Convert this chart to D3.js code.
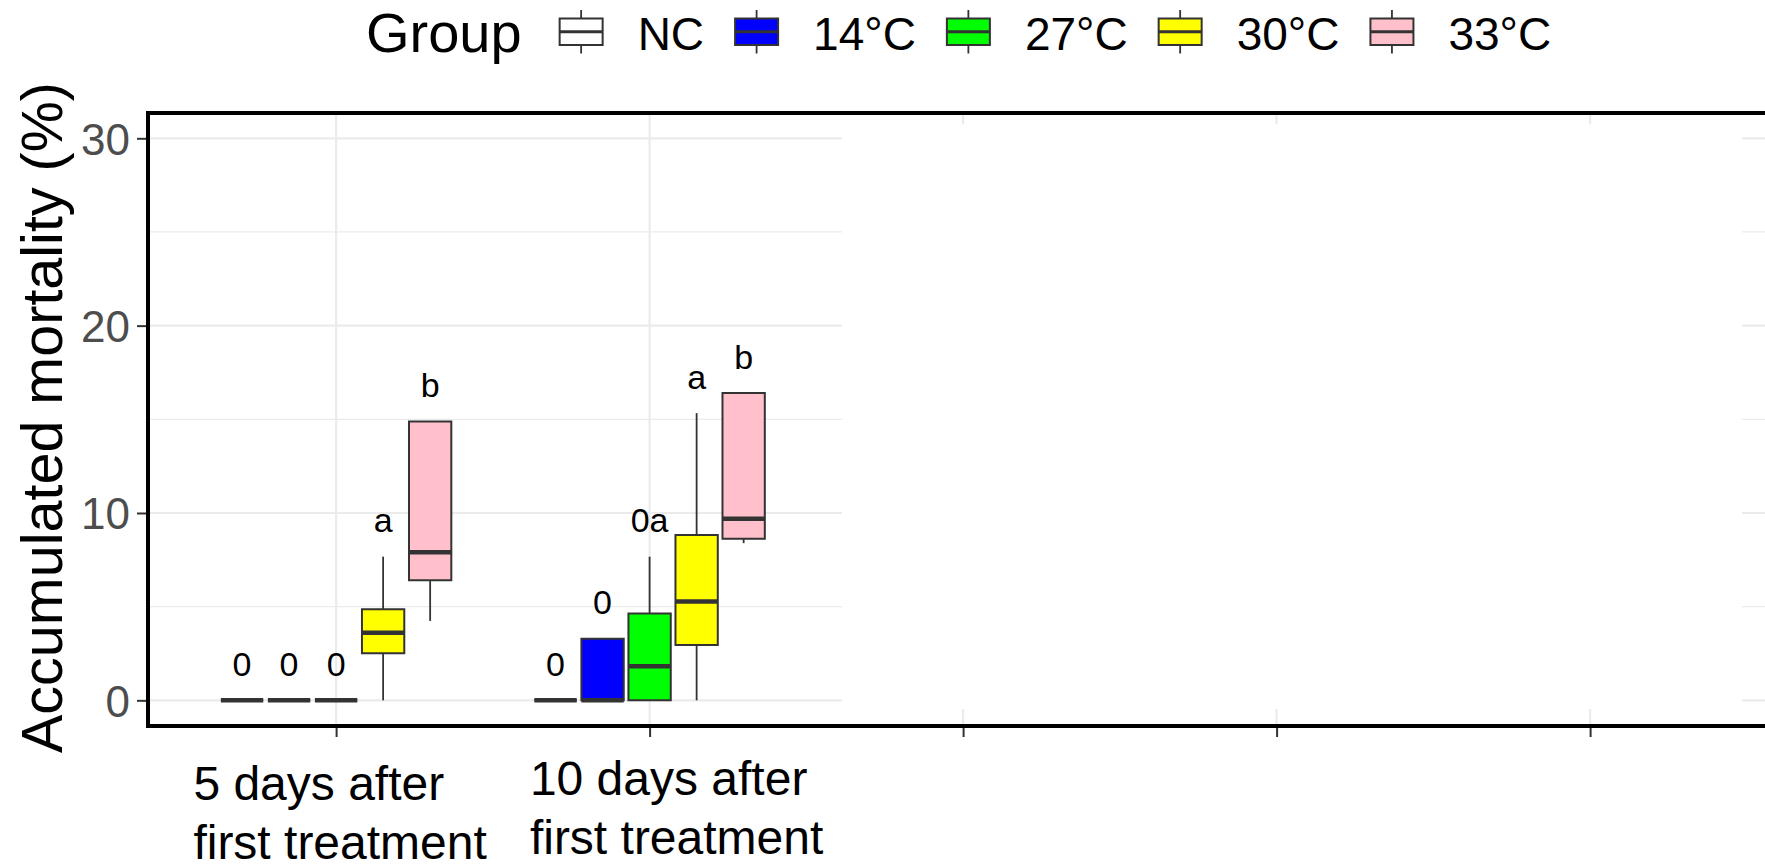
<!DOCTYPE html>
<html><head><meta charset="utf-8">
<script src="https://cdn.jsdelivr.net/npm/d3@7"></script>
<style>body{margin:0;background:#fff} svg{display:block;font-family:"Liberation Sans",Arial,sans-serif}</style>
</head><body>
<svg id="chart" width="1765" height="867"></svg>
<script>
// ---------------- data ----------------
const categories = ["5d", "10d", "15d", "20d", "25d"];
const tickLabels = [["5 days after", "first treatment"], ["10 days after", "first treatment"], [], [], []];
const groups = ["NC", "14°C", "27°C", "30°C", "33°C"];
const groupColors = ["#FFFFFF", "#0000FF", "#00FF00", "#FFFF00", "#FFC0CB"];
// box statistics per category: [min, q1, median, q3, max]
const statsNC  = [[0, 0, 0, 0, 0], [0, 0, 0, 0, 0]];
const stats14  = [[0, 0, 0, 0, 0], [0, 0, 0, 3.29, 3.29]];
const stats27  = [[0, 0, 0, 0, 0], [0, 0, 1.82, 4.63, 7.67]];
const stats30  = [[0, 2.51, 3.61, 4.86, 7.67], [0, 2.96, 5.27, 8.83, 15.33]];
const stats33  = [[4.24, 6.41, 7.91, 14.88, 14.88], [8.39, 8.62, 9.69, 16.4, 16.4]];
const lettersNC = ["0", "0"];
const letters14 = ["0", "0"];
const letters27 = ["0", "0a"];
const letters30 = ["a", "a"];
const letters33 = ["b", "b"];
const yTicks = [0, 10, 20, 30];
const yMinorTicks = [5, 15, 25];
const yDomain = [-1.37, 31.35];
const yTitle = "Accumulated mortality (%)";
const legendTitle = "Group";

// ---------------- layout ----------------
const svg = d3.select("#chart");
const P = {left: 148, top: 113, bottom: 726};
const step = 313.5;
P.right = P.left + step * 5.2;

const x = d3.scaleBand().domain(categories).range([P.left, P.right]).paddingInner(0).paddingOuter(0.1);
const dodge = d3.scaleBand().domain(groups).range([-0.375 * step, 0.375 * step]).paddingInner(0.1).paddingOuter(0.05);
const y = d3.scaleLinear().domain(yDomain).range([P.bottom, P.top]);
const color = d3.scaleOrdinal().domain(groups).range(groupColors);
const cx = c => x(c) + x.bandwidth() / 2;

// gridlines
const grid = svg.append("g");
grid.selectAll(".minor").data(yMinorTicks).join("line")
  .attr("x1", P.left).attr("x2", P.right).attr("y1", d => y(d)).attr("y2", d => y(d))
  .attr("stroke", "#ebebeb").attr("stroke-width", 1.2);
grid.selectAll(".majorY").data(yTicks).join("line")
  .attr("x1", P.left).attr("x2", P.right).attr("y1", d => y(d)).attr("y2", d => y(d))
  .attr("stroke", "#ebebeb").attr("stroke-width", 2.2);
grid.selectAll(".majorX").data(categories).join("line")
  .attr("x1", d => cx(d)).attr("x2", d => cx(d)).attr("y1", P.top).attr("y2", P.bottom)
  .attr("stroke", "#ebebeb").attr("stroke-width", 2.2);

// white patch covering the unused part of the panel (as in the source image)
svg.append("rect").attr("x", 842).attr("y", 124).attr("width", 1742 - 842).attr("height", 709 - 124)
  .attr("fill", "#ffffff");

// boxes
const series = [
  {g: groups[0], stats: statsNC, letters: lettersNC},
  {g: groups[1], stats: stats14, letters: letters14},
  {g: groups[2], stats: stats27, letters: letters27},
  {g: groups[3], stats: stats30, letters: letters30},
  {g: groups[4], stats: stats33, letters: letters33}
];
const bw = dodge.bandwidth();
const boxes = [];
series.forEach(s => s.stats.forEach((st, i) => boxes.push({g: s.g, cat: categories[i], st, letter: s.letters[i]})));
const bx = d => cx(d.cat) + dodge(d.g) + bw / 2;
const gb = svg.append("g");
gb.selectAll(".wu").data(boxes).join("line")
  .attr("x1", bx).attr("x2", bx).attr("y1", d => y(d.st[4])).attr("y2", d => y(d.st[3]))
  .attr("stroke", "#333333").attr("stroke-width", 1.8);
gb.selectAll(".wl").data(boxes).join("line")
  .attr("x1", bx).attr("x2", bx).attr("y1", d => y(d.st[1])).attr("y2", d => y(d.st[0]))
  .attr("stroke", "#333333").attr("stroke-width", 1.8);
gb.selectAll(".box").data(boxes).join("path")
  .attr("d", d => {
    const x0 = bx(d) - bw / 2, x1 = bx(d) + bw / 2, y3 = y(d.st[3]), y1 = y(d.st[1]);
    return `M${x0},${y3}H${x1}V${y1}H${x0}Z`;
  })
  .attr("fill", d => color(d.g)).attr("stroke", "#333333").attr("stroke-width", 2);
gb.selectAll(".med").data(boxes).join("line")
  .attr("x1", d => bx(d) - bw / 2).attr("x2", d => bx(d) + bw / 2)
  .attr("y1", d => y(d.st[2])).attr("y2", d => y(d.st[2]))
  .attr("stroke", "#333333").attr("stroke-width", 4.5);
gb.selectAll(".lab").data(boxes).join("text")
  .attr("x", bx).attr("y", d => y(d.st[4] + 1.3))
  .attr("text-anchor", "middle").attr("font-size", 34).attr("fill", "#000")
  .text(d => d.letter);

// panel border
svg.append("rect").attr("x", P.left).attr("y", P.top).attr("width", P.right - P.left).attr("height", P.bottom - P.top)
  .attr("fill", "none").attr("stroke", "#000").attr("stroke-width", 4);

// axes
const yAxis = svg.append("g").attr("transform", `translate(${P.left - 2},0)`)
  .call(d3.axisLeft(y).tickValues(yTicks).tickSize(9).tickPadding(7).tickFormat(d3.format("d")));
yAxis.select(".domain").remove();
yAxis.selectAll(".tick line").attr("stroke", "#333333").attr("stroke-width", 2);
yAxis.selectAll(".tick text").attr("font-size", 44).attr("fill", "#4d4d4d")
  .attr("font-family", "Liberation Sans, Arial, sans-serif").attr("dy", "0.36em");

const xTickScale = d3.scalePoint().domain(categories).range([cx(categories[0]), cx(categories[4])]);
const xAxis = svg.append("g").attr("transform", `translate(0,${P.bottom + 2})`)
  .call(d3.axisBottom(xTickScale).tickSize(9).tickFormat(""));
xAxis.select(".domain").remove();
xAxis.selectAll(".tick line").attr("stroke", "#333333").attr("stroke-width", 2);

// x labels (two lines, left aligned block as in source)
const xLabOffset = [{dx: 4, base: 800}, {dx: 27, base: 795}];
tickLabels.forEach((lines, i) => {
  if (!lines.length) return;
  const t = svg.append("text").attr("font-size", 48).attr("fill", "#000");
  lines.forEach((ln, k) => t.append("tspan").attr("x", 0).attr("y", xLabOffset[i].base + k * 58.5).text(ln));
  const w = t.node().getBBox().width;
  t.attr("transform", `translate(${cx(categories[i]) + xLabOffset[i].dx - w / 2},0)`);
});

// y title
svg.append("text")
  .attr("transform", `translate(62,${(P.top + P.bottom) / 2 - 2}) rotate(-90)`)
  .attr("text-anchor", "middle").attr("font-size", 57.5).attr("fill", "#000")
  .text(yTitle);

// legend
const lg = svg.append("g");
const lt = lg.append("text").attr("x", 366).attr("y", 51.5).attr("font-size", 56).attr("fill", "#000").text(legendTitle);
let lx = 366 + lt.node().getComputedTextLength() + 38;
groups.forEach((g, i) => {
  const kw = 43;
  const kc = lx + kw / 2;
  lg.append("line").attr("x1", kc).attr("x2", kc).attr("y1", 10).attr("y2", 53.5).attr("stroke", "#333").attr("stroke-width", 1.8);
  lg.append("rect").attr("x", lx).attr("y", 18.5).attr("width", kw).attr("height", 26.5)
    .attr("fill", color(g)).attr("stroke", "#333").attr("stroke-width", 2);
  lg.append("line").attr("x1", lx).attr("x2", lx + kw).attr("y1", 31.7).attr("y2", 31.7).attr("stroke", "#333").attr("stroke-width", 3);
  const tx = lg.append("text").attr("x", lx + kw + 35).attr("y", 50).attr("font-size", 46).attr("fill", "#000").text(g);
  lx = lx + kw + 35 + tx.node().getComputedTextLength() + 31;
});
</script>
</body></html>
